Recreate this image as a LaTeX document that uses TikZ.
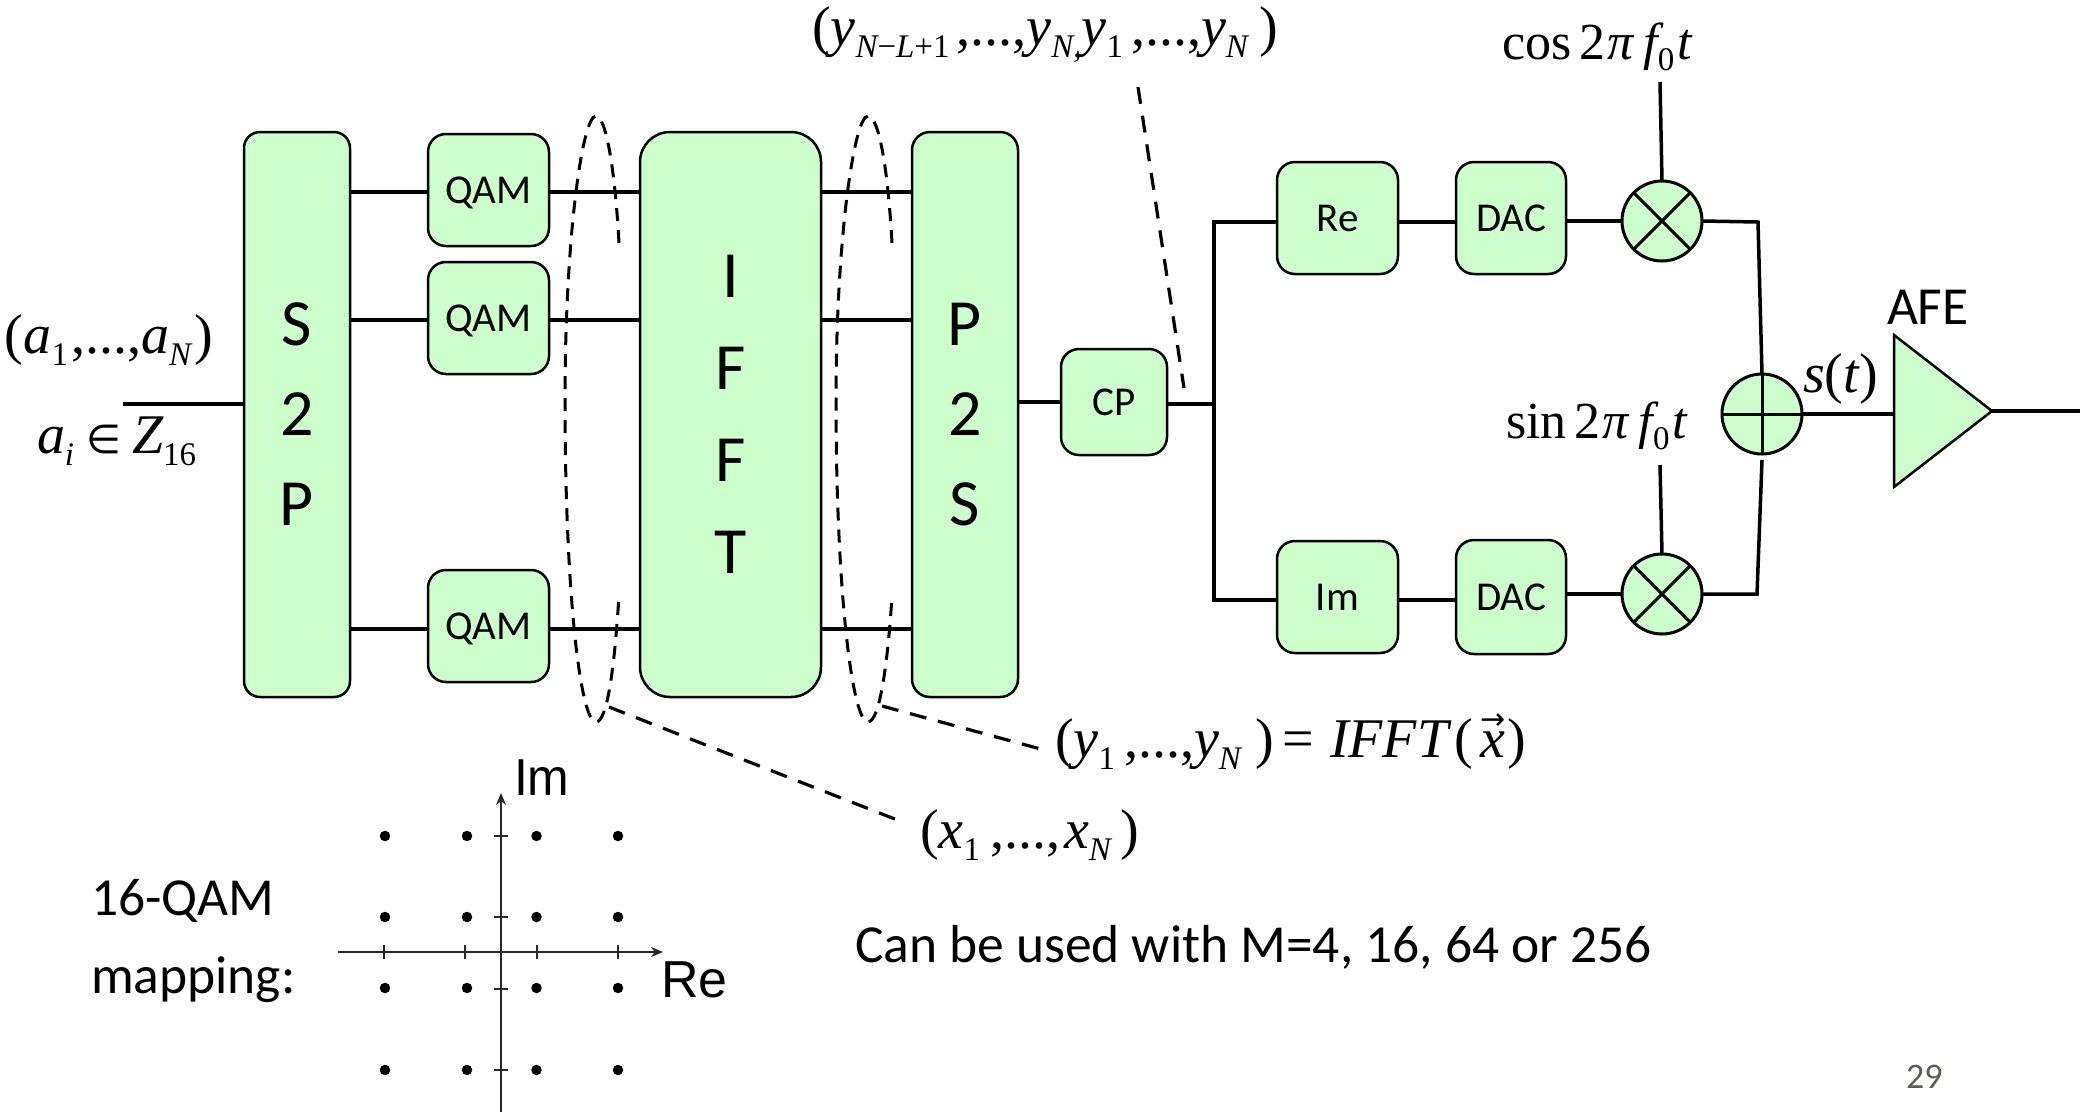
\documentclass[tikz,border=0pt]{standalone}
\usepackage{fontspec}
\setmainfont{Liberation Serif}
\newfontfamily\calf{Carlito}
\newfontfamily\arsf{Liberation Sans}
\newfontfamily\symf{DejaVu Sans}
\usetikzlibrary{arrows.meta}
\definecolor{boxgreen}{HTML}{CCFFCC}
\definecolor{pagegray}{HTML}{605C55}
\newcommand{\mi}[1]{{\itshape #1}}
\newcommand{\sbs}[1]{\raisebox{-0.22em}{\fontsize{33}{33}\selectfont #1}}
\newcommand{\kn}[1]{\kern #1pt\relax}
\tikzset{
  every node/.style={inner sep=0pt,outer sep=0pt},
  block/.style={draw=black,fill=boxgreen,line width=2.5pt,rounded corners=#1,align=center},
  block/.default=18pt,
  small/.style={block,font=\calf\fontsize{41}{41}\selectfont,text height=26pt,text depth=0pt,minimum width=121pt,minimum height=112pt},
  tall/.style={font=\calf\fontsize{66}{92}\selectfont,minimum height=565pt},
  tighter/.style={font=\calf\fontsize{66}{90}\selectfont},
  wire/.style={line width=4pt},
  thinwire/.style={line width=3.5pt},
  leader/.style={line width=3.2pt,dash pattern=on 17pt off 12pt},
  ringdash/.style={line width=3pt,dash pattern=on 13pt off 9pt},
  mix/.style={circle,draw=black,fill=boxgreen,line width=3pt,minimum size=80pt},
  mixline/.style={line width=3pt},
  axis/.style={line width=1.4pt,draw=black!85},
  tick/.style={line width=1.1pt,draw=black!85},
  qamdot/.style={circle,fill=black,minimum size=10.5pt},
  eqn/.style={anchor=base west,font=\fontsize{56}{56}\selectfont},
  trig/.style={anchor=base west,font=\fontsize{52}{52}\selectfont},
  sanslabel/.style={anchor=base west,font=\calf\fontsize{53.5}{53.5}\selectfont},
  axlabel/.style={anchor=base west,font=\arsf\fontsize{52}{52}\selectfont},
}
\begin{document}
\begin{tikzpicture}[x=1pt,y=-1pt]
\useasboundingbox (0,0) rectangle (2080,1112);
% blocks
\node[block=16pt,tall,tighter,minimum width=106pt] (s2p) at (297,414.5) {S\\2\\P};
\node[small] (q1) at (488.5,190) {QAM};
\node[small] (q2) at (488.5,318) {QAM};
\node[small] (q3) at (488.5,626) {QAM};
\node[block=30pt,tall,minimum width=181pt] (ifft) at (730.5,414.5) {I\\F\\F\\T};
\node[block=18pt,tall,tighter,minimum width=106pt] (p2s) at (965,414.5) {P\\2\\S};
\node[small,minimum width=106pt,minimum height=106pt] (cp) at (1114,402) {CP};
\node[small] (re) at (1337.5,218) {Re};
\node[small] (im) at (1337.5,597) {Im};
\node[small,minimum width=110pt] (dac1) at (1511,218) {DAC};
\node[small,minimum width=110pt,minimum height=114pt] (dac2) at (1511,597) {DAC};
\node[mix] (m1) at (1662,221) {};
\node[mix] (m2) at (1662,594) {};
\node[mix] (add) at (1762,414) {};
\draw[mixline] (m1.north west) -- (m1.south east) (m1.north east) -- (m1.south west);
\draw[mixline] (m2.north west) -- (m2.south east) (m2.north east) -- (m2.south west);
\draw[mixline] (add.north) -- (add.south) (add.west) -- (add.east);
% amplifier
\coordinate (ampt) at (1894,335);
\coordinate (ampb) at (1894,487);
\coordinate (ampa) at (1992,411);
\draw[fill=boxgreen,line width=2.5pt,line join=miter] (ampt) -- (ampa) -- (ampb) -- cycle;
% free ends and junctions
\coordinate (in) at (123,404);
\coordinate (out) at (2080,411);
\coordinate (jm) at (1214,404);
\coordinate (jt) at (1214,222);
\coordinate (jb) at (1214,600);
\coordinate (cosend) at (1660,82);
\coordinate (sinend) at (1660,465);
\coordinate (cr) at (1758,222);
\coordinate (sr) at (1757,594);
\coordinate (addb) at (1762,460);
% wires
\draw[wire] (in) -- (in -| s2p.west);
\foreach \q/\y in {q1/192,q2/320,q3/629}{
  \draw[wire] (s2p.east |- 0,\y) -- (\q.west |- 0,\y);
  \draw[wire] (\q.east |- 0,\y) -- (ifft.west |- 0,\y);
  \draw[wire] (ifft.east |- 0,\y) -- (p2s.west |- 0,\y);
}
\draw[wire] (p2s.east |- cp) -- (cp.west);
\draw[wire] (cp.east |- jm) -- (jm);
\draw[wire,line join=miter] (jt -| re.west) -- (jt) -- (jb) -- (jb -| im.west);
\draw[wire] (re.east |- jt) -- (dac1.west |- jt);
\draw[wire] (im.east |- jb) -- (dac2.west |- jb);
\draw[wire] (dac1.east |- m1) -- (m1.west);
\draw[wire] (dac2.east |- m2) -- (m2.west);
\draw[thinwire] (cosend) -- (m1.north);
\draw[thinwire] (sinend) -- (m2.north);
\draw[thinwire,line join=miter] (m1.east) -- (cr) -- (add.north);
\draw[thinwire,line join=miter] (m2.east) -- (sr) -- (addb);
\draw[wire] (add.east) -- (add.east -| ampt);
\draw[thinwire] (ampa) -- (out);
% dashed groupings
\coordinate (lt) at (619,243);
\coordinate (lb) at (619,595);
\coordinate (lf) at (609,707);
\coordinate (rt) at (892,243);
\coordinate (rb) at (892,596);
\coordinate (rf) at (882,706);
\coordinate (tl) at (1138,87);
\coordinate (tr) at (1184,388);
\coordinate (xe) at (905,823);
\coordinate (ye) at (1048,751);
\draw[ringdash] (lt) .. controls (615,170) and (606,116) .. (596,116)
  .. controls (582,116) and (565,240) .. (565,400)
  .. controls (565,590) and (580,722) .. (596,722)
  .. controls (608,722) and (615,660) .. (lb);
\draw[ringdash] (rt) .. controls (888,170) and (879,116) .. (868,116)
  .. controls (854,116) and (836,240) .. (836,400)
  .. controls (836,590) and (852,722) .. (868,722)
  .. controls (880,722) and (888,660) .. (rb);
% equations
\node[eqn] (ylong) at (812,45) {(\mi{y}\sbs{\mi{N}−\mi{L}+1}\kn{7},...,\mi{y}\sbs{\mi{N},}\mi{y}\sbs{1}\kn{8},...,\mi{y}\sbs{\mi{N}}\kn{12})};
\node[eqn] (alab) at (5,353) {(\mi{a}\sbs{1}\kn{3},...,\mi{a}\sbs{\mi{N}}\kn{3})};
\node[eqn] (zlab) at (37,453) {\makebox[50pt][l]{\mi{a}\sbs{\mi{i}}}\makebox[45pt][l]{\fontsize{40}{40}\selectfont\symf ∈}\mi{Z}\sbs{16}};
\node[eqn] (ylab) at (1055,757) {(\mi{y}\sbs{1}\kn{9},...,\mi{y}\sbs{\mi{N}}\kn{15})\kn{8}=\kn{16}\mi{IFFT}\kn{6}(\kn{8}\rlap{\raisebox{0.5em}{\fontsize{30}{30}\selectfont\symf →}}\mi{x}\kn{2})};
\node[eqn] (xlab) at (920,848) {(\mi{x}\sbs{1}\kn{10},...,\kn{4}\mi{x}\sbs{\mi{N}}\kn{10})};
\node[trig] (coslab) at (1502,59) {cos\kn{8}2\kn{2}\mi{π}\kn{10}\mi{f}\sbs{0}\kn{3}\mi{t}};
\node[trig] (sinlab) at (1506,438) {sin\kn{8}2\kn{2}\mi{π}\kn{10}\mi{f}\sbs{0}\kn{3}\mi{t}};
\node[eqn] (slab) at (1803,392) {\mi{s}(\mi{t})};
\node[sanslabel] (afe) at (1887,324) {AFE};
\draw[leader] (lf) -- (xe);
\draw[leader] (rf) -- (ye);
\draw[leader] (tl) -- (tr);
% constellation
\coordinate (xa) at (338,952);
\coordinate (xb) at (663,952);
\coordinate (ya) at (501,1112);
\coordinate (yb) at (501,793);
\draw[axis,-{Stealth[length=12pt,width=10pt]}] (xa) -- (xb);
\draw[axis,-{Stealth[length=12pt,width=10pt]}] (ya) -- (yb);
\foreach \x in {384,465,537,618} \draw[tick] (\x,945) -- (\x,959);
\foreach \y in {836,917,989,1070} \draw[tick] (494,\y) -- (508,\y);
\foreach \x/\n in {385/a,467/b,536.5/c,618/d}{
  \foreach \y/\m in {836/1,917/2,988/3,1070/4}{
    \node[qamdot] (dot\n\m) at (\x,\y) {};
  }
}
\node[axlabel,xscale=0.96] (imlab) at (514,795) {Im};
\node[axlabel] (relab) at (661,997) {Re};
\node[sanslabel] (t16) at (91,915) {16-QAM};
\node[sanslabel] (tmap) at (91,993) {mapping:};
\node[sanslabel] (tcan) at (855,962) {Can be used with M=4, 16, 64 or 256};
\node[anchor=base west,font=\calf\fontsize{36}{36}\selectfont,text=pagegray] (pg) at (1906,1088) {29};
\end{tikzpicture}
\end{document}
